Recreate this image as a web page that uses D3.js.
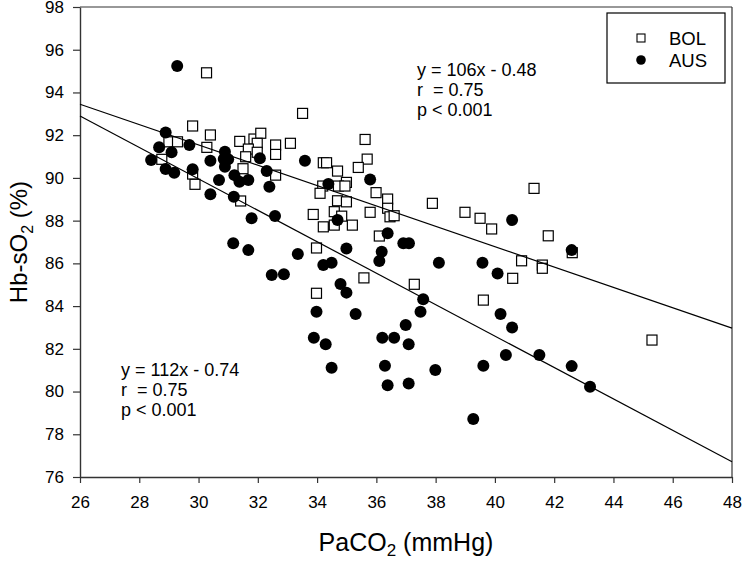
<!DOCTYPE html>
<html>
<head>
<meta charset="utf-8">
<script src="https://cdn.jsdelivr.net/npm/d3@7"></script>
<style>
  body { margin: 0; background: #fff; }
  svg { display: block; }
  text { font-family: "Liberation Sans", Arial, sans-serif; fill: #000; }
</style>
</head>
<body>
<svg id="chart" width="742" height="561"></svg>
<script>
// ---- data ----
const xTicks = [26, 28, 30, 32, 34, 36, 38, 40, 42, 44, 46, 48];
const yTicks = [76, 78, 80, 82, 84, 86, 88, 90, 92, 94, 96, 98];

const bolX = [30.27,29.80,30.40,29.00,29.29,30.28,31.39,31.87,32.10,31.98,32.60,32.60,33.10,31.68,31.98,31.59,28.76,31.50,32.60,29.80,29.88,31.42,33.87,33.51,35.62,35.69,35.39,34.21,34.32,34.69,34.99,34.19,34.10,34.72,34.94,35.99,36.38,34.69,34.99,36.38,34.58,35.79,36.46,36.60,34.83,34.21,34.58,35.19,37.89,38.99,39.50,39.89,36.10,33.98,35.58,37.28,33.98,39.61,41.32,41.80,40.90,40.60,41.60,41.60,42.61,45.30];
const bolY = [94.92,92.43,92.01,91.69,91.69,91.43,91.71,91.82,92.09,91.62,91.54,91.10,91.62,91.35,91.20,90.99,90.87,90.43,90.13,90.18,89.70,88.92,88.29,93.02,91.80,90.88,90.49,90.71,90.71,90.32,89.79,89.62,89.28,89.62,89.62,89.31,89.01,88.93,88.88,88.58,88.42,88.39,88.18,88.23,88.21,87.71,87.79,87.79,88.81,88.39,88.11,87.61,87.28,86.72,85.32,85.02,84.60,84.28,89.51,87.29,86.12,85.30,85.92,85.77,86.50,82.41];

const ausX = [29.28,28.89,28.67,29.09,28.40,28.89,29.18,29.69,29.80,30.40,30.89,30.85,31.00,30.89,30.69,31.21,31.38,31.68,32.07,32.30,32.39,30.40,31.19,31.79,32.58,31.17,31.68,33.35,32.47,32.88,33.59,34.38,35.79,34.69,36.38,36.91,37.10,34.99,34.21,34.49,36.18,36.10,38.11,39.58,40.09,34.79,34.99,33.98,35.30,37.58,37.49,36.99,33.89,34.29,36.20,36.60,37.09,34.49,36.29,37.99,36.38,37.09,39.27,39.61,40.19,40.37,40.58,42.59,40.58,41.50,42.59,43.21];
const ausY = [95.24,92.13,91.43,91.20,90.84,90.42,90.24,91.54,90.40,90.80,91.23,90.88,90.87,90.52,89.90,90.13,89.82,89.90,90.92,90.32,89.59,89.23,89.12,88.11,88.22,86.94,86.62,86.44,85.45,85.49,90.80,89.71,89.93,88.03,87.41,86.94,86.94,86.70,85.92,86.03,86.54,86.11,86.03,86.03,85.53,85.03,84.63,83.73,83.63,84.32,83.74,83.11,82.52,82.21,82.52,82.52,82.21,81.11,81.21,81.01,80.30,80.38,78.71,81.21,83.63,81.71,88.03,86.62,83.00,81.71,81.19,80.22];

// regression line end points
const fitBolX = [26, 48];
const fitBolY = [93.45, 82.97];
const fitAusX = [26, 48];
const fitAusY = [92.90, 76.71];

const seriesNames = ["BOL", "AUS"];
const bolText = ["y = 106x - 0.48", "r  = 0.75", "p < 0.001"];
const ausText = ["y = 112x - 0.74", "r  = 0.75", "p < 0.001"];

// ---- layout ----
const svg = d3.select("#chart");
const pLeft = 80, pRight = 732, pTop = 7, pBottom = 477;
const x = d3.scaleLinear().domain([26, 48]).range([pLeft, pRight]);
const y = d3.scaleLinear().domain([76, 98]).range([pBottom, pTop]);
const axisColor = "#333";

// frame (top & right)
svg.append("line").attr("x1", pLeft).attr("x2", pRight).attr("y1", pTop).attr("y2", pTop)
  .attr("stroke", axisColor).attr("stroke-width", 1.2);
svg.append("line").attr("x1", pRight).attr("x2", pRight).attr("y1", pTop).attr("y2", pBottom)
  .attr("stroke", axisColor).attr("stroke-width", 1.2);

// axes
const xAxis = svg.append("g").attr("transform", `translate(0,${pBottom})`)
  .call(d3.axisBottom(x).tickValues(xTicks).tickSize(6).tickSizeOuter(0).tickPadding(13).tickFormat(d3.format("d")));
const yAxis = svg.append("g").attr("transform", `translate(${pLeft},0)`)
  .call(d3.axisLeft(y).tickValues(yTicks).tickSize(7).tickSizeOuter(0).tickPadding(9).tickFormat(d3.format("d")));
[xAxis, yAxis].forEach(g => {
  g.select(".domain").attr("stroke", axisColor).attr("stroke-width", 1.4);
  g.selectAll(".tick line").attr("stroke", axisColor).attr("stroke-width", 1.2);
  g.selectAll(".tick text").attr("font-size", 17).attr("font-family", "'Liberation Sans', Arial, sans-serif").attr("fill", "#000");
});

// points
const bol = bolX.map((v, i) => [v, bolY[i]]);
const aus = ausX.map((v, i) => [v, ausY[i]]);
const sq = 10;
svg.append("g").selectAll("rect").data(bol).join("rect")
  .attr("x", d => x(d[0]) - sq / 2).attr("y", d => y(d[1]) - sq / 2)
  .attr("width", sq).attr("height", sq)
  .attr("fill", "#fff").attr("stroke", "#000").attr("stroke-width", 1.2);
svg.append("g").selectAll("circle").data(aus).join("circle")
  .attr("cx", d => x(d[0])).attr("cy", d => y(d[1])).attr("r", 6)
  .attr("fill", "#000");

// regression lines
const lineGen = d3.line().x(d => x(d[0])).y(d => y(d[1]));
[[fitBolX, fitBolY], [fitAusX, fitAusY]].forEach(([xs, ys]) => {
  svg.append("path").attr("d", lineGen(xs.map((v, i) => [v, ys[i]])))
    .attr("fill", "none").attr("stroke", "#000").attr("stroke-width", 1.2);
});

// annotations
function annot(lines, x0, y0) {
  const t = svg.append("text").attr("x", x0).attr("y", y0).attr("font-size", 18)
    .style("white-space", "pre").attr("xml:space", "preserve");
  lines.forEach((s, i) => t.append("tspan").attr("x", x0).attr("y", y0 + i * 20).text(s));
}
annot(bolText, 417, 75.5);
annot(ausText, 121, 375.5);

// legend
svg.append("rect").attr("x", 607).attr("y", 13).attr("width", 118).attr("height", 70)
  .attr("fill", "#fff").attr("stroke", "#000").attr("stroke-width", 1.2);
svg.append("rect").attr("x", 641 - 4).attr("y", 38 - 4).attr("width", 8).attr("height", 8)
  .attr("fill", "#fff").attr("stroke", "#000").attr("stroke-width", 1.1);
svg.append("circle").attr("cx", 641).attr("cy", 60).attr("r", 4.8).attr("fill", "#000");
svg.append("text").attr("x", 669).attr("y", 44.5).attr("font-size", 18.5).text(seriesNames[0]);
svg.append("text").attr("x", 669).attr("y", 66.5).attr("font-size", 18.5).text(seriesNames[1]);

// axis titles
const xt = svg.append("text").attr("x", (pLeft + pRight) / 2).attr("y", 551)
  .attr("text-anchor", "middle").attr("font-size", 25);
xt.append("tspan").text("PaCO");
xt.append("tspan").attr("font-size", 17).attr("dy", 5).text("2");
xt.append("tspan").attr("dy", -5).text(" (mmHg)");

const yt = svg.append("text").attr("transform", `translate(27,${(pTop + pBottom) / 2}) rotate(-90)`)
  .attr("text-anchor", "middle").attr("font-size", 24);
yt.append("tspan").text("Hb-sO");
yt.append("tspan").attr("font-size", 16).attr("dy", 6).text("2");
yt.append("tspan").attr("dy", -6).text(" (%)");
</script>
</body>
</html>
